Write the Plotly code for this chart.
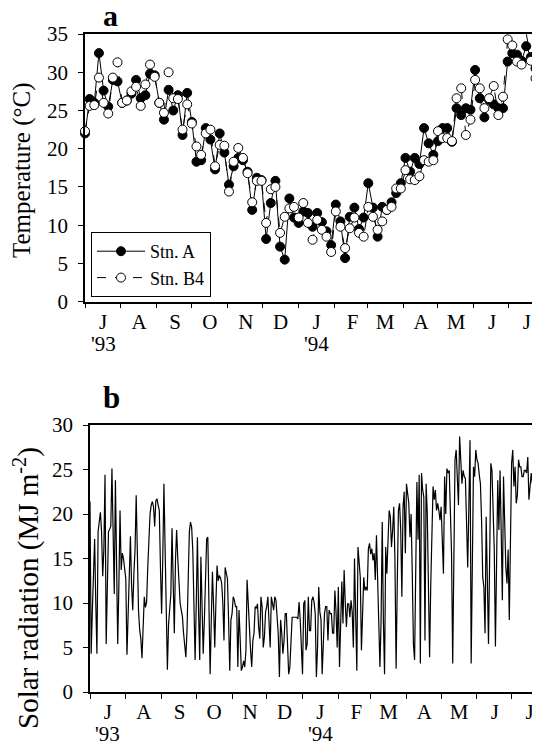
import pandas as pd
import plotly.graph_objects as go

# ---------------- data ----------------
month_letters = ["J", "A", "S", "O", "N", "D", "J", "F", "M", "A", "M", "J", "J"]
year_labels = {0: "'93", 6: "'94"}

temp_dates = pd.date_range("1993-07-01", periods=99, freq="4D")
stn_a = [22.0, 26.5, 26.0, 32.5, 27.6, 25.5, 29.0, 28.8, 26.0, 26.3,
         27.2, 29.0, 26.6, 27.0, 29.8, 29.6, 26.0, 23.8, 27.7, 25.0,
         27.0, 21.8, 27.3, 23.5, 18.3, 18.5, 22.7, 21.2, 17.3, 22.0,
         19.5, 15.3, 17.7, 18.8, 18.5, 17.0, 12.0, 16.2, 15.9, 8.2,
         12.9, 15.8, 7.2, 5.5, 13.5, 11.0, 10.3, 11.8, 11.6, 9.8,
         11.6, 10.4, 9.2, 7.4, 12.7, 10.5, 5.7, 11.1, 12.3, 9.5,
         11.0, 15.5, 12.3, 8.5, 12.4, 12.0, 13.0, 14.2, 15.5, 18.8,
         17.0, 18.8, 18.0, 22.7, 20.7, 19.2, 21.0, 22.7, 22.7, 20.9,
         25.3, 24.4, 25.3, 25.1, 30.3, 26.6, 24.1, 26.4, 25.8, 25.3,
         25.3, 31.4, 32.5, 32.3, 31.5, 33.4, 32.0, 30.5, 26.0]
stn_b4 = [22.3, 25.6, 25.7, 29.3, 26.0, 24.6, 29.3, 31.3, 26.0, 26.3,
          27.5, 28.1, 25.6, 28.4, 31.0, 29.4, 26.0, 24.7, 30.0, 26.6,
          26.5, 22.5, 25.8, 23.3, 20.3, 19.2, 22.0, 22.5, 17.7, 20.5,
          20.4, 14.4, 18.3, 20.1, 18.8, 16.8, 13.0, 15.8, 15.8, 10.3,
          14.7, 15.0, 9.0, 11.1, 12.2, 12.4, 11.0, 12.9, 10.3, 8.1,
          10.7, 9.4, 8.5, 6.5, 11.8, 9.8, 7.0, 9.6, 11.0, 9.0,
          8.5, 12.4, 11.1, 9.4, 10.5, 12.0, 12.4, 14.8, 14.8, 17.2,
          16.0, 15.9, 16.4, 18.5, 18.3, 18.5, 22.3, 21.4, 21.4, 21.0,
          26.6, 27.9, 21.8, 23.8, 29.0, 27.9, 25.3, 26.6, 28.2, 24.4,
          26.8, 34.3, 33.5, 31.4, 31.0, 35.1, 31.5, 29.2, 22.0]

rad_jul93 = [21.4, 4.3, 9.0, 14.0, 17.2, 10.0, 4.3, 18.0, 19.0, 20.2, 18.0, 13.0, 16.0, 24.4, 5.4, 12.0,
             18.0, 18.3, 18.6, 25.1, 16.0, 11.0, 23.8, 14.0, 5.4, 12.0, 20.4, 13.7, 15.6, 15.0, 13.5]
rad_aug93 = [12.7, 4.2, 9.0, 14.7, 17.5, 12.0, 9.2, 13.3, 16.0, 22.1, 13.3, 9.2, 7.0, 6.0, 3.8, 7.0,
             10.7, 9.5, 10.1, 14.0, 17.0, 20.0, 21.0, 21.4, 20.8, 18.6, 21.5, 21.7, 21.0, 20.4, 14.0]
rad_sep93 = [8.8, 15.0, 23.4, 16.3, 7.0, 2.5, 7.6, 9.2, 11.0, 18.4, 12.0, 6.6, 14.8, 18.2, 15.0,
             11.8, 10.0, 9.2, 8.5, 6.6, 5.0, 3.9, 7.0, 13.0, 18.0, 19.1, 18.5, 15.9, 10.0, 3.6]
rad_oct93 = [10.0, 17.4, 9.0, 3.6, 15.2, 11.0, 4.3, 8.0, 12.0, 17.2, 17.4, 10.0, 2.0, 8.0, 13.5, 9.6,
             5.0, 10.0, 14.2, 12.5, 13.1, 12.8, 12.2, 10.0, 5.8, 14.0, 13.5, 12.7, 8.0, 2.4, 8.1]
rad_nov93 = [8.8, 10.7, 10.3, 9.6, 9.6, 2.8, 9.2, 6.0, 2.4, 2.8, 3.5, 2.8, 4.7, 12.6, 10.0,
             6.2, 4.7, 2.8, 5.8, 6.6, 9.6, 9.4, 9.9, 7.3, 6.0, 10.7, 9.6, 5.0, 6.2, 9.0]
rad_dec93 = [9.6, 10.7, 8.1, 5.0, 10.7, 9.6, 9.2, 10.7, 10.3, 8.4, 6.4, 1.7, 8.1, 6.6, 4.3, 5.8,
             8.8, 8.8, 5.4, 2.0, 2.8, 5.8, 8.4, 8.4, 8.4, 8.4, 8.4, 8.2, 10.1, 8.1, 4.7]
rad_jan94 = [2.0, 9.9, 10.3, 4.7, 5.4, 10.7, 6.9, 6.9, 10.3, 10.7, 10.1, 8.8, 1.7, 5.0, 11.8, 9.0,
             8.1, 2.0, 6.0, 8.8, 9.6, 9.6, 5.8, 9.2, 8.8, 8.8, 6.6, 6.6, 11.4, 9.0, 5.0]
rad_feb94 = [11.8, 2.8, 8.0, 12.4, 7.7, 13.7, 10.0, 7.3, 9.9, 9.9, 8.4, 10.3, 9.0, 5.0,
             15.0, 9.0, 2.4, 16.3, 14.0, 12.9, 4.7, 9.0, 12.9, 11.4, 11.8, 11.4, 16.1, 16.7]
rad_mar94 = [15.5, 16.1, 14.8, 15.6, 12.6, 17.6, 12.0, 9.6, 2.8, 8.0, 19.1, 8.0, 2.0, 16.3, 13.3, 17.0,
             20.4, 19.7, 16.3, 18.2, 20.8, 14.8, 2.6, 12.0, 20.4, 21.2, 18.2, 10.7, 20.8, 22.5, 15.6]
rad_apr94 = [23.4, 22.1, 21.2, 17.4, 20.0, 13.3, 5.4, 3.6, 14.0, 23.6, 17.1, 24.4, 3.2, 24.6, 22.7,
             21.9, 5.8, 23.4, 20.0, 11.0, 3.9, 12.0, 19.3, 23.1, 21.6, 22.7, 20.4, 21.2, 20.4, 19.3]
rad_may94 = [20.8, 17.0, 13.3, 24.2, 20.0, 25.1, 24.6, 24.9, 20.0, 15.6, 3.2, 12.0, 26.1, 27.2, 23.1, 21.0,
             28.7, 26.0, 23.4, 24.9, 24.2, 24.0, 20.0, 14.0, 21.0, 28.3, 3.2, 14.0, 25.3, 24.2, 27.2]
rad_jun94 = [26.1, 25.7, 24.4, 23.4, 19.3, 12.9, 11.8, 6.6, 19.7, 12.0, 5.4, 15.0, 25.7, 24.9, 20.4,
             15.9, 5.1, 13.0, 23.8, 18.2, 24.9, 18.0, 10.3, 24.2, 17.4, 14.0, 12.2, 16.0, 8.1, 15.0]
rad_jul94 = [25.7, 27.2, 23.1, 25.3, 21.2, 22.1, 26.1, 25.3, 25.3, 24.2, 24.2, 24.9, 24.9,
             24.6, 26.4, 21.6, 23.4, 24.6, 23.4, 24.6, 23.8, 24.6, 21.6, 3.2, 23.0, 22.0]

solar_rad = (rad_jul93 + rad_aug93 + rad_sep93 + rad_oct93 + rad_nov93 + rad_dec93 + rad_jan94
             + rad_feb94 + rad_mar94 + rad_apr94 + rad_may94 + rad_jun94 + rad_jul94)
rad_dates = pd.date_range("1993-07-01", periods=len(solar_rad), freq="D")

# ---------------- figure ----------------
FONT = "Liberation Serif"
W, H = 540, 745
OFF = 8  # page body margin


def px(x):
    return (x - OFF) / W


def py(y):
    return 1 - (y - OFF) / H


month_starts = pd.date_range("1993-07-01", "1994-08-01", freq="MS")
label_pos = [m + pd.Timedelta(hours=372) for m in month_starts[:-1]]

n = len(stn_a)
vis = [1] * (n - 1) + [0]

fig = go.Figure()
fig.add_trace(go.Scatter(
    x=temp_dates, y=stn_a, name="Stn. A", mode="lines+markers", cliponaxis=False,
    line=dict(color="black", width=1),
    marker=dict(symbol="circle", size=9, color="black", opacity=vis, line=dict(color="black", width=1)),
    xaxis="x", yaxis="y"))
fig.add_trace(go.Scatter(
    x=temp_dates, y=stn_b4, name="Stn. B4", mode="lines+markers", cliponaxis=False,
    line=dict(color="black", width=1, dash="dash"),
    marker=dict(symbol="circle", size=9, color="white", opacity=vis, line=dict(color="black", width=1)),
    xaxis="x", yaxis="y"))
fig.add_trace(go.Scatter(
    x=rad_dates, y=solar_rad, mode="lines", showlegend=False,
    line=dict(color="black", width=1.2),
    xaxis="x2", yaxis="y2"))

tickfont = dict(family=FONT, size=21, color="black")


def xcfg(rng, domain, anchor):
    return dict(type="date", range=rng, domain=domain, anchor=anchor, automargin=False,
                tickmode="array", tickvals=label_pos, ticktext=month_letters, ticks="",
                ticklabelstandoff=0,
                minor=dict(tickmode="array", tickvals=list(month_starts), ticks="outside",
                           ticklen=5, tickwidth=1, tickcolor="black", showgrid=False),
                showline=True, linecolor="black", linewidth=1.5, mirror=True,
                showgrid=False, zeroline=False, tickfont=tickfont)


def ycfg(rng, domain, anchor, step):
    return dict(range=rng, domain=domain, anchor=anchor, automargin=False,
                tickmode="array", tickvals=list(range(rng[0], rng[1] + 1, step)),
                ticks="outside", ticklen=5, tickwidth=1, tickcolor="black",
                ticklabelstandoff=6,
                showline=True, linecolor="black", linewidth=1.5, mirror=True,
                showgrid=False, zeroline=False, tickfont=tickfont)


top_dom = [py(301.7), py(34)]
bot_dom = [py(692), py(425)]


def ann(text, x, y, size, bold=False, angle=0, xref="paper"):
    return dict(text=("<b>%s</b>" % text) if bold else text, x=x, y=y, xref=xref, yref="paper",
                xanchor="center", yanchor="middle", textangle=angle, showarrow=False,
                font=dict(family=FONT, size=size, color="black"))


annotations = [
    ann("a", px(110), py(15), 30, bold=True),
    ann("b", px(111), py(397), 31, bold=True),
    ann("Temperature (°C)", px(22), py(170), 25, angle=-90),
    ann("Solar radiation (MJ m<sup>-2</sup>)", px(26), py(588), 29, angle=-90),
]
for i, yl in year_labels.items():
    annotations.append(ann(yl, label_pos[i], py(344), 21, xref="x"))
    annotations.append(ann(yl, label_pos[i], py(734), 21, xref="x2"))

fig.update_layout(
    width=W, height=H, margin=dict(l=0, r=0, t=0, b=0, autoexpand=False),
    paper_bgcolor="white", plot_bgcolor="white",
    font=dict(family=FONT, color="black"),
    xaxis=xcfg(["1993-07-01", "1994-07-27"], [px(85), px(539)], "y"),
    yaxis=ycfg([0, 35], top_dom, "x", 5),
    xaxis2=xcfg(["1993-07-01", "1994-07-25 14:00"], [px(90), px(540)], "y2"),
    yaxis2=ycfg([0, 30], bot_dom, "x2", 5),
    legend=dict(x=px(91), y=py(232), xanchor="left", yanchor="top",
                bordercolor="black", borderwidth=1, bgcolor="white",
                itemwidth=48,
                font=dict(family=FONT, size=18, color="black"), tracegroupgap=0),
    showlegend=True,
    annotations=annotations,
)

fig.write_html("out.html")
